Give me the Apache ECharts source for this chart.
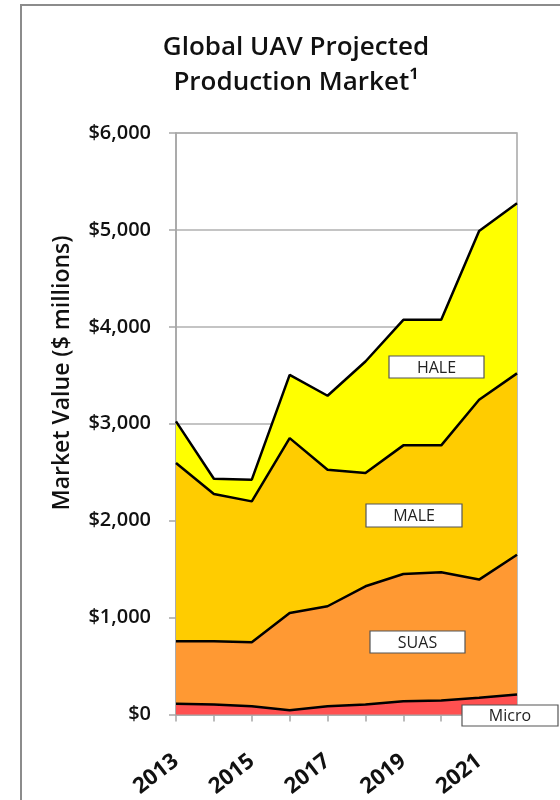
<!DOCTYPE html>
<html>
<head>
<meta charset="utf-8">
<script src="https://cdn.jsdelivr.net/npm/echarts@6/dist/echarts.min.js"></script>
<style>
html,body{margin:0;padding:0;background:#fff;}
#chart{width:560px;height:800px;}
</style>
</head>
<body>
<div id="chart"></div>
<script>
const years = ['2013','2014','2015','2016','2017','2018','2019','2020','2021','2022'];
const micro = [110, 103, 86, 44, 86, 103, 137, 144, 172, 206];
const suas  = [646, 653, 659, 1004, 1031, 1220, 1313, 1323, 1220, 1443];
const male  = [1839, 1519, 1454, 1804, 1409, 1168, 1327, 1310, 1855, 1871];
const hale  = [429, 158, 224, 653, 763, 1151, 1295, 1295, 1743, 1755];
const seriesNames = ['Micro', 'SUAS', 'MALE', 'HALE'];
const seriesColors = ['#FF5050', '#FF9933', '#FFCC00', '#FFFF00'];
const yTicks = { min: 0, max: 6000, interval: 1000 };

const FONT = '"Open Sans", Lato, sans-serif';
const chart = echarts.init(document.getElementById('chart'), null, {renderer: 'canvas'});

function mk(name, data, color) {
  return {
    name: name, type: 'line', stack: 'total', data: data,
    showSymbol: false, symbol: 'none', z: 2,
    lineStyle: {color: '#000', width: 2.5},
    areaStyle: {color: color, opacity: 1},
    itemStyle: {color: color},
    silent: true
  };
}

function box(x, y, w, h, text) {
  return [
    {type: 'rect', z: 100, shape: {x: x, y: y, width: w, height: h},
     style: {fill: '#fff', stroke: '#555', lineWidth: 1.2}},
    {type: 'text', z: 101, x: x + w / 2, y: y + h / 2 + 1,
     style: {text: text, fill: '#222', font: '16px ' + FONT, align: 'center', verticalAlign: 'middle'}}
  ];
}

chart.setOption({
  animation: false,
  backgroundColor: '#fff',
  title: {
    text: 'Global UAV Projected\nProduction Market¹',
    left: 291, top: 25, textAlign: 'center',
    textStyle: {fontFamily: FONT, fontSize: 26, fontWeight: 600, color: '#111', lineHeight: 35}
  },
  grid: {left: 176, right: 43, top: 133, bottom: 85, show: true, borderColor: '#a6a6a6', borderWidth: 1.5, containLabel: false},
  xAxis: {
    type: 'category', data: years, boundaryGap: false,
    axisLine: {show: true, lineStyle: {color: '#a6a6a6', width: 1.5}},
    axisTick: {show: true, length: 7, lineStyle: {color: '#a6a6a6', width: 1.5}, interval: 0},
    axisLabel: {interval: 1, rotate: 38, fontFamily: FONT, fontSize: 22, fontWeight: 'bold', color: '#111', margin: 44},
    splitLine: {show: false}
  },
  yAxis: {
    type: 'value', min: yTicks.min, max: yTicks.max, interval: yTicks.interval,
    axisLine: {show: true, lineStyle: {color: '#a6a6a6', width: 1.5}},
    axisTick: {show: true, length: 7, lineStyle: {color: '#a6a6a6', width: 1.5}},
    axisLabel: {fontFamily: FONT, fontSize: 20, fontWeight: 600, color: '#111', margin: 25,
      formatter: v => '$' + v.toLocaleString('en-US')},
    splitLine: {show: true, lineStyle: {color: '#b0b0b0', width: 1.5}}
  },
  series: [
    mk(seriesNames[0], micro, seriesColors[0]),
    mk(seriesNames[1], suas, seriesColors[1]),
    mk(seriesNames[2], male, seriesColors[2]),
    mk(seriesNames[3], hale, seriesColors[3])
  ],
  graphic: [
    {type: 'polyline', z: 0, shape: {points: [[21, 800], [21, 5], [560, 5]]},
     style: {stroke: '#8c8c8c', lineWidth: 2, fill: null}},
    {type: 'text', x: 62, y: 373, rotation: Math.PI / 2, z: 50,
     style: {text: 'Market Value ($ millions)', font: '600 23px ' + FONT, fill: '#111', align: 'center', verticalAlign: 'middle'}}
  ].concat(
    box(389, 356, 95, 22, 'HALE'),
    box(366, 504, 96, 23, 'MALE'),
    box(370, 631, 95, 22, 'SUAS'),
    box(462, 705, 96, 21, 'Micro')
  )
});
</script>
</body>
</html>
